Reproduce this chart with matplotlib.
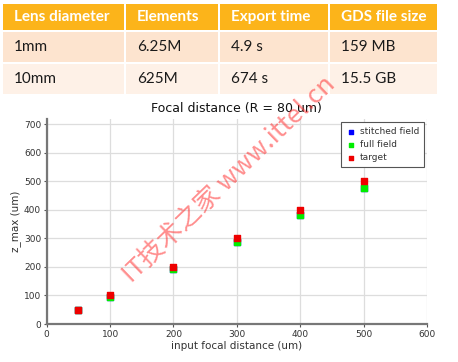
import matplotlib
matplotlib.use("Agg")
from matplotlib import pyplot as plt
from matplotlib.patches import Rectangle

# table data
headers = ["Lens diameter", "Elements", "Export time", "GDS file size"]
row_1mm = ["1mm", "6.25M", "4.9 s", "159 MB"]
row_10mm = ["10mm", "625M", "674 s", "15.5 GB"]

# scatter data
focal_in = [50, 100, 200, 300, 400, 500]
stitched_field = [49, 96, 191, 288, 383, 478]
full_field = [49, 96, 191, 288, 383, 478]
target = [50, 100, 200, 300, 400, 500]

W, H = 458, 362
fig = plt.figure(figsize=(W / 100, H / 100), dpi=100)
fig.set_facecolor("white")

# table drawn in pixel space
tab = fig.add_axes([0, 0, 1, 1])
tab.set_xlim(0, W)
tab.set_ylim(H, 0)
tab.axis("off")

col_edges = [2, 125, 219, 329, 438]
row_edges = [3, 31, 63, 95]
row_colors = ["#FCB41A", "#FDE4CF", "#FEF1E7"]
rows = [headers, row_1mm, row_10mm]

for r, cells in enumerate(rows):
    y0, y1 = row_edges[r], row_edges[r + 1]
    for c, txt in enumerate(cells):
        x0, x1 = col_edges[c], col_edges[c + 1]
        tab.add_patch(Rectangle((x0 + 0.5, y0 + 0.5), x1 - x0 - 1.5, y1 - y0 - 1.5,
                                facecolor=row_colors[r], edgecolor="none"))
        tab.text(x0 + 12, (y0 + y1) / 2, txt, ha="left", va="center",
                 fontsize=11, family="Lato",
                 fontweight="bold" if r == 0 else "normal",
                 color="white" if r == 0 else "#1a1a1a")

# scatter chart
ax = fig.add_axes([46.7 / W, 1 - 324 / H, (427 - 46.7) / W, (324 - 119) / H])
ax.scatter(focal_in, stitched_field, marker="s", s=22, color="#0000ff",
           label="stitched field", zorder=3)
ax.scatter(focal_in, full_field, marker="s", s=22, color="#00ee00",
           label="full field", zorder=4)
ax.scatter(focal_in, target, marker="s", s=22, color="#ee0000",
           label="target", zorder=5)

ax.set_xlim(0, 600)
ax.set_ylim(0, 718)
ax.set_xticks(range(0, 601, 100))
ax.set_yticks(range(0, 701, 100))
ax.grid(color="#dddddd", linewidth=0.9)
ax.set_axisbelow(True)

for side in ["top", "right"]:
    ax.spines[side].set_visible(False)
for side in ["left", "bottom"]:
    ax.spines[side].set_color("#777777")
    ax.spines[side].set_linewidth(1.6)

ax.tick_params(axis="both", labelsize=6.5, colors="#555555", length=2.5,
               width=0.8, pad=1.5)
for lbl in ax.get_xticklabels() + ax.get_yticklabels():
    lbl.set_color("#333333")

ax.set_title("Focal distance (R = 80 um)", fontsize=9, color="#111111", pad=5)
ax.set_xlabel("input focal distance (um)", fontsize=7.5, color="#333333", labelpad=2)
ax.set_ylabel("z_max (um)", fontsize=7.5, color="#333333", labelpad=2)

leg = ax.legend(loc="upper right", bbox_to_anchor=(1.003, 1.005), fontsize=6.5,
                markerscale=0.7, handlelength=1.2, handletextpad=0.4,
                borderpad=0.5, labelspacing=0.45, fancybox=False, framealpha=1,
                edgecolor="#555555")
leg.get_frame().set_linewidth(0.8)
for t in leg.get_texts():
    t.set_color("#333333")

# watermark
fig.text(229, H - 180, "IT技术之家 www.ittel.cn", transform=None,
         rotation=44, ha="center", va="center", fontsize=18.5, fontweight="light",
         color="#ff3030", alpha=0.55, family=["Noto Sans CJK SC", "DejaVu Sans"])

fig.savefig("out.png", dpi=100)
